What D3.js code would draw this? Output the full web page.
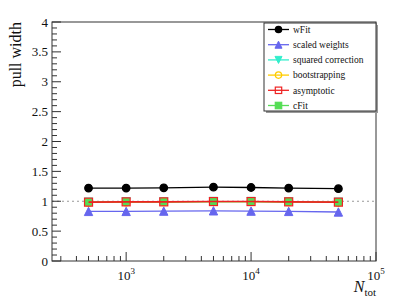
<!DOCTYPE html>
<html>
<head>
<meta charset="utf-8">
<script src="https://cdn.jsdelivr.net/npm/d3@7"></script>
<style>
  body { margin: 0; background: #fff; }
</style>
</head>
<body>
<div id="chart"></div>
<script>
// Sample sizes on the x axis
const nTot = [500, 1000, 2000, 5000, 10000, 20000, 50000];

// Pull widths per method
const wFit = [1.22, 1.22, 1.225, 1.235, 1.23, 1.22, 1.21];
const scaledWeights = [0.83, 0.83, 0.835, 0.84, 0.835, 0.83, 0.82];
const squaredCorrection = [0.985, 0.99, 0.99, 0.995, 0.995, 0.99, 0.985];
const bootstrapping = [0.98, 0.985, 0.99, 0.995, 0.995, 0.99, 0.98];
const asymptotic = [0.985, 0.99, 0.99, 0.995, 0.995, 0.99, 0.985];
const cFit = [0.985, 0.99, 0.99, 0.995, 0.995, 0.99, 0.985];

const yTicks = [0, 0.5, 1, 1.5, 2, 2.5, 3, 3.5, 4];

const series = [
  { name: "wFit", values: wFit, color: "#000000", marker: "circle", filled: true },
  { name: "scaled weights", values: scaledWeights, color: "#6666ee", marker: "triUp", filled: true },
  { name: "squared correction", values: squaredCorrection, color: "#33eecc", marker: "triDown", filled: true },
  { name: "bootstrapping", values: bootstrapping, color: "#ffcc00", marker: "circle", filled: false },
  { name: "asymptotic", values: asymptotic, color: "#ee2222", marker: "square", filled: false },
  { name: "cFit", values: cFit, color: "#55dd55", marker: "square", filled: true }
];

const width = 407, height = 299;
const margin = { top: 22, right: 31, bottom: 38, left: 52 };
const innerW = width - margin.left - margin.right;
const innerH = height - margin.top - margin.bottom;

const svg = d3.select("#chart").append("svg")
  .attr("width", width)
  .attr("height", height)
  .attr("font-family", "'Liberation Serif', 'DejaVu Serif', serif");

const g = svg.append("g").attr("transform", `translate(${margin.left},${margin.top})`);

const x = d3.scaleLog().domain([255, 1e5]).range([0, innerW]);
const y = d3.scaleLinear().domain([0, 4]).range([innerH, 0]);

// reference line at 1
g.append("line")
  .attr("x1", 0).attr("x2", innerW)
  .attr("y1", y(1)).attr("y2", y(1))
  .attr("stroke", "#999").attr("stroke-width", 1.2)
  .attr("stroke-dasharray", "2,3");

// frame
g.append("rect")
  .attr("width", innerW).attr("height", innerH)
  .attr("fill", "none").attr("stroke", "#333").attr("stroke-width", 1);

// y ticks (inside, ROOT style)
const yMinor = d3.range(0, 4.001, 0.1);
g.selectAll(".ymin").data(yMinor).join("line")
  .attr("x1", 0).attr("x2", d => Math.abs(d * 2 - Math.round(d * 2)) < 1e-6 ? 9 : 5)
  .attr("y1", d => y(d)).attr("y2", d => y(d))
  .attr("stroke", "#333");
g.selectAll(".ylab").data(yTicks).join("text")
  .attr("x", -4).attr("y", d => y(d)).attr("dy", "0.35em")
  .attr("text-anchor", "end").attr("font-size", 13).attr("fill", "#111")
  .text(d => d3.format("~g")(d));

// x ticks (log, inside)
const xMinor = [];
[100, 1000, 10000].forEach(dec => {
  for (let k = 1; k <= 9; k++) {
    const v = dec * k;
    if (v >= 255 && v <= 1e5) xMinor.push(v);
  }
});
xMinor.push(1e5);
g.selectAll(".xmin").data(xMinor).join("line")
  .attr("x1", d => x(d)).attr("x2", d => x(d))
  .attr("y1", innerH)
  .attr("y2", d => Number.isInteger(Math.log10(d)) ? innerH - 9 : innerH - 5)
  .attr("stroke", "#333");

const xLab = [1e3, 1e4, 1e5];
const xl = g.selectAll(".xlab").data(xLab).join("text")
  .attr("x", d => x(d)).attr("y", innerH + 19)
  .attr("text-anchor", "middle").attr("font-size", 13).attr("fill", "#111");
xl.append("tspan").text("10");
xl.append("tspan").attr("dy", -6).attr("font-size", 9).text(d => Math.round(Math.log10(d)));

// axis titles
svg.append("text")
  .attr("transform", `translate(21,${margin.top}) rotate(-90)`)
  .attr("text-anchor", "end").attr("font-size", 16).attr("fill", "#111")
  .text("pull width");

const xt = svg.append("text")
  .attr("x", margin.left + innerW).attr("y", 292)
  .attr("text-anchor", "end").attr("font-size", 16).attr("fill", "#111");
xt.append("tspan").attr("font-style", "italic").text("N");
xt.append("tspan").attr("dy", 4).attr("font-size", 11).text("tot");

// markers
function drawMarker(sel, s, size) {
  const r = size;
  if (s.marker === "circle") {
    sel.append("circle").attr("r", r)
      .attr("fill", s.filled ? s.color : "none")
      .attr("stroke", s.color).attr("stroke-width", 1.2);
  } else if (s.marker === "square") {
    sel.append("rect").attr("x", -r).attr("y", -r).attr("width", 2 * r).attr("height", 2 * r)
      .attr("fill", s.filled ? s.color : "none")
      .attr("stroke", s.color).attr("stroke-width", 1.2);
  } else {
    const up = s.marker === "triUp" ? 1 : -1;
    const h = r * 1.1;
    sel.append("path")
      .attr("d", `M0,${-h * up}L${r * 1.1},${h * up}L${-r * 1.1},${h * up}Z`)
      .attr("fill", s.color).attr("stroke", s.color);
  }
}

const line = d3.line().x(d => x(d[0])).y(d => y(d[1]));

// draw order: bottom to top so red asymptotic line ends up visible
const drawOrder = ["wFit", "scaled weights", "squared correction", "bootstrapping", "cFit", "asymptotic"];
drawOrder.forEach(name => {
  const s = series.find(d => d.name === name);
  const pts = nTot.map((n, i) => [n, s.values[i]]);
  g.append("path").datum(pts)
    .attr("d", line)
    .attr("fill", "none").attr("stroke", s.color)
    .attr("stroke-width", s.name === "asymptotic" ? 1.6 : 1.3);
  const size = s.name === "asymptotic" ? 4 : (s.name === "cFit" ? 3 : 3.8);
  pts.forEach(p => {
    const m = g.append("g").attr("transform", `translate(${x(p[0])},${y(p[1])})`);
    drawMarker(m, s, size);
  });
});

// legend
const lg = svg.append("g").attr("transform", "translate(264,23)");
const lgW = 112, lgH = 88;
lg.append("rect").attr("x", 2).attr("y", 2).attr("width", lgW).attr("height", lgH).attr("fill", "#999");
lg.append("rect").attr("width", lgW).attr("height", lgH)
  .attr("fill", "#fff").attr("stroke", "#333").attr("stroke-width", 1);
series.forEach((s, i) => {
  const row = lg.append("g").attr("transform", `translate(0,${6.5 + i * 15.2})`);
  row.append("line").attr("x1", 4).attr("x2", 25).attr("stroke", s.color).attr("stroke-width", 1.3);
  const m = row.append("g").attr("transform", "translate(14.5,0)");
  drawMarker(m, s, 3.2);
  row.append("text").attr("x", 29).attr("dy", "0.35em")
    .attr("font-size", 9.5).attr("fill", "#111").text(s.name);
});
</script>
</body>
</html>
